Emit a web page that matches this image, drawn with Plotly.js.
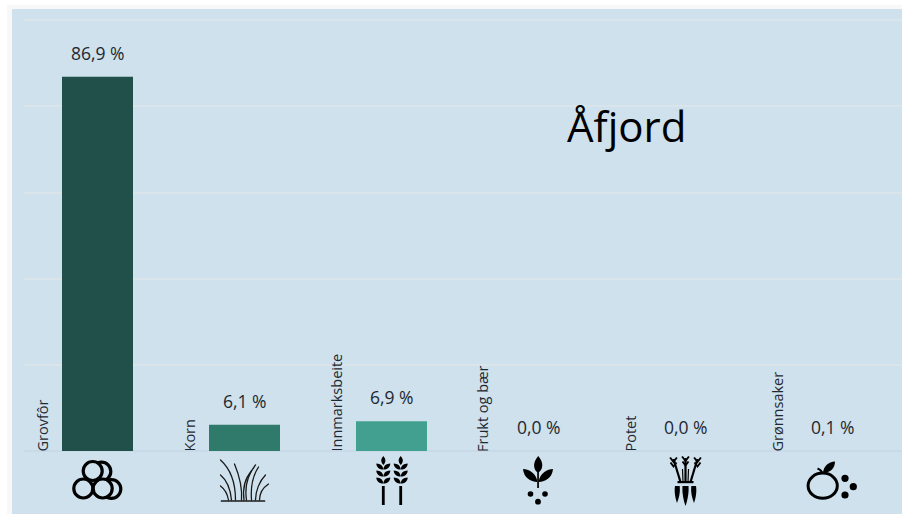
<!DOCTYPE html>
<html>
<head>
<meta charset="utf-8">
<script src="https://cdn.plot.ly/plotly-3.0.1.min.js"></script>
<style>
html,body{margin:0;padding:0;background:#fff;width:902px;height:514px;overflow:hidden}
#strip{position:absolute;left:7px;top:5px;width:895px;height:509px;background:#f8f8f8}
#chart{position:absolute;left:12px;top:9px;width:890px;height:505px}
</style>
</head>
<body>
<div id="strip"></div>
<div id="chart"></div>
<script>
const categories = ["Grovfôr", "Korn", "Innmarksbeite", "Frukt og bær", "Potet", "Grønnsaker"];
const shares = [86.9, 6.1, 6.9, 0.0, 0.0, 0.1];
const valueLabels = ["86,9 %", "6,1 %", "6,9 %", "0,0 %", "0,0 %", "0,1 %"];
const barColors = ["#21504a", "#307a6c", "#41a08f", "#c8d9e8", "#c8d9e8", "#c8d9e8"];
const chartTitle = "Åfjord";

const panel = "#cee1ec";
const ink = "#1f2831";

function leafPair(cx, y, d, s) {
  return `<path d="M${cx} ${y+s}C${cx-d*0.55} ${y+s} ${cx-d} ${y+s*0.3} ${cx-d} ${y-s*0.7}C${cx-d*0.4} ${y-s*0.6} ${cx-0.3} ${y-s*0.2} ${cx} ${y+s}Z"/>` +
         `<path d="M${cx} ${y+s}C${cx+d*0.55} ${y+s} ${cx+d} ${y+s*0.3} ${cx+d} ${y-s*0.7}C${cx+d*0.4} ${y-s*0.6} ${cx+0.3} ${y-s*0.2} ${cx} ${y+s}Z"/>`;
}
function wheat(cx) {
  return `<path d="M${cx} 5C${cx+2.8} 8 ${cx+2.8} 11 ${cx} 14C${cx-2.8} 11 ${cx-2.8} 8 ${cx} 5Z"/>` +
    leafPair(cx, 15, 7, 3.6) + leafPair(cx, 22, 7, 3.6) + leafPair(cx, 29, 7, 3.6) +
    `<rect x="${cx-1.4}" y="35" width="2.8" height="19"/>`;
}
function carrotTop(x1, y1, x2, y2) {
  return `<path d="M${x1} ${y1}L${x2} ${y2}" stroke="#000" stroke-width="2.2" fill="none"/>` +
    `<path d="M${x2-3.4} ${y2-1.5}L${x2} ${y2+3}L${x2+3.4} ${y2-1.5}" stroke="#000" stroke-width="1.9" fill="none"/>` +
    `<path d="M${x2-3} ${y2+3.5}L${x2} ${y2+7.5}L${x2+3} ${y2+3.5}" stroke="#000" stroke-width="1.9" fill="none"/>`;
}

const iconBodies = [
  `<g fill="${panel}" stroke="#000" stroke-width="3.2">
     <circle cx="34" cy="20.5" r="9.3"/><circle cx="44" cy="38" r="9.3"/>
     <circle cx="25.2" cy="20" r="9.5"/><circle cx="15.8" cy="37.5" r="9.5"/><circle cx="35.2" cy="37.5" r="9.5"/>
   </g>`,
  `<g fill="none" stroke="#1a1a1a" stroke-width="1.3" stroke-linecap="round">
     <path d="M7 50H50" stroke-width="1.7"/>
     <path d="M21 49C21 32 16 18 6 9"/><path d="M17 49C16 38 12 29 6 24"/><path d="M14 49C13 43 10 38 6 35"/>
     <path d="M27 49C28 36 25 25 20 13"/><path d="M32 49C30 36 33 24 41 14"/><path d="M29.5 49C28 38 30 28 37 20"/>
     <path d="M37 49C36 36 38 25 44 16"/><path d="M41 49C41 40 45 30 51 24"/><path d="M45 49C45 43 48 37 54 33"/>
   </g>`,
  `<g fill="#000">${wheat(21.8)}${wheat(39.2)}</g>`,
  `<g fill="#000">
     <path d="M29.7 5C33 9 35 13 33 18C32 20 31 21 29.7 21.5C28 21 27 20 26.3 18C24.5 13 26.5 9 29.7 5Z"/>
     <path d="M28.8 31C22 31 15 26 14.5 18C20 18 28 22 28.8 31Z"/>
     <path d="M30.2 31C37 31 44 26 44.5 18C39 18 31 22 30.2 31Z"/>
     <rect x="28.7" y="18" width="1.7" height="19"/>
     <circle cx="22" cy="43" r="2.8"/><circle cx="36.5" cy="43" r="2.8"/><circle cx="29.5" cy="50.7" r="2.9"/>
   </g>`,
  `<g fill="#000">
     ${carrotTop(25, 31, 18, 8)}${carrotTop(30, 31, 30, 7)}${carrotTop(35, 31, 42, 8)}
     <path d="M27.5 31L27 18M32.5 31L33 18" stroke="#000" stroke-width="1.2" fill="none"/>
     <rect x="22" y="30" width="16" height="2.2"/>
     <path d="M19.5 35C18.5 41 20 48 21.5 52C23.5 47 25 41 24.2 35Z"/>
     <path d="M27 35C26.4 42 28.2 50 30 55C31.8 50 33.6 42 33 35Z"/>
     <path d="M35.8 35C35 41 36.5 47 38.5 52C40 48 41.5 41 40.5 35Z"/>
   </g>`,
  `<g>
     <ellipse cx="20.2" cy="34.7" rx="14.6" ry="12.6" fill="none" stroke="#000" stroke-width="3"/>
     <path d="M20 23C19.5 20 17.5 18.5 15 17.5" fill="none" stroke="#000" stroke-width="2"/>
     <path d="M20.5 22C21 15 26 11 32.5 10.5C32.5 17 28 22 20.5 22Z" fill="#000"/>
     <circle cx="42.5" cy="27.3" r="3.6"/><circle cx="50.8" cy="35.7" r="3.6"/><circle cx="42.5" cy="44" r="3.6"/>
   </g>`
];

function iconUri(body) {
  const svg = `<svg xmlns="http://www.w3.org/2000/svg" width="240" height="240" viewBox="0 0 60 60">${body}</svg>`;
  return "data:image/svg+xml;charset=utf-8," + encodeURIComponent(svg);
}

const W = 890, H = 505, L = 12, T = 10, B = 63;
const plotH = H - T - B, plotW = W - L;
const band = 147;
const xMax = -0.5 + plotW / band;

const trace = {
  type: "bar",
  x: categories,
  y: shares,
  marker: {color: barColors},
  hoverinfo: "skip"
};

const annotations = [];
categories.forEach((c, i) => {
  annotations.push({
    x: c, y: shares[i], xref: "x", yref: "y",
    text: valueLabels[i], showarrow: false,
    xanchor: "center", yanchor: "bottom", yshift: 10,
    font: {family: "Open Sans, sans-serif", size: 17.5, color: ink}
  });
  annotations.push({
    x: c, y: 0, xref: "x", yref: "y",
    text: c, showarrow: false, textangle: -90,
    xanchor: "center", yanchor: "bottom", xshift: -56, yshift: -3,
    font: {family: "Open Sans, sans-serif", size: 14.5, color: ink}
  });
});
annotations.push({
  x: 0.6865, y: 0.753, xref: "paper", yref: "paper",
  text: chartTitle, showarrow: false, xanchor: "center", yanchor: "middle",
  font: {family: "Open Sans, sans-serif", size: 42, color: "#000"}
});

const images = categories.map((c, i) => ({
  source: iconUri(iconBodies[i]),
  xref: "x", yref: "paper",
  x: c, y: 0,
  sizex: 60 / band, sizey: 60 / plotH,
  xanchor: "center", yanchor: "top",
  sizing: "contain", layer: "above"
}));

const layout = {
  width: W, height: H,
  margin: {l: L, r: 0, t: T, b: B, pad: 0},
  paper_bgcolor: panel,
  plot_bgcolor: panel,
  showlegend: false,
  bargap: 0.517,
  font: {family: "Open Sans, sans-serif", color: ink},
  xaxis: {
    type: "category",
    categoryorder: "array", categoryarray: categories,
    range: [-0.5, xMax],
    showticklabels: false, ticks: "", showgrid: false, zeroline: false, showline: false
  },
  yaxis: {
    range: [0, 100.3], dtick: 20,
    showticklabels: false, ticks: "",
    gridcolor: "#d9e5eb", gridwidth: 2,
    zeroline: true, zerolinecolor: "#c8d9e8", zerolinewidth: 2,
    showline: false
  },
  annotations: annotations,
  images: images
};

Plotly.newPlot("chart", [trace], layout, {displayModeBar: false, staticPlot: true});
</script>
</body>
</html>
